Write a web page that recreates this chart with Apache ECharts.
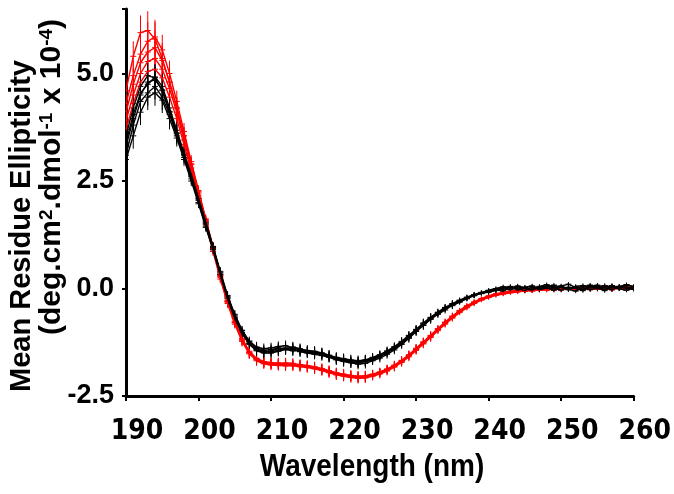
<!DOCTYPE html>
<html><head><meta charset="utf-8">
<script src="https://cdn.jsdelivr.net/npm/echarts@6/dist/echarts.min.js"></script>
<style>html,body{margin:0;padding:0;background:#fff}#c{width:674px;height:494px}</style>
</head><body><div id="c"></div>
<script>
// wavelengths 190..260 nm, 1 nm steps
const wavelengths = [190,191,192,193,194,195,196,197,198,199,200,201,202,203,204,205,206,207,208,209,210,211,212,213,214,215,216,217,218,219,220,221,222,223,224,225,226,227,228,229,230,231,232,233,234,235,236,237,238,239,240,241,242,243,244,245,246,247,248,249,250,251,252,253,254,255,256,257,258,259,260];
const xTickLabels = [190,200,210,220,230,240,250,260];
const yTickLabels = ['-2.5','0.0','2.5','5.0'];

const black1 = [3.55,4.2,4.7,4.95,4.9,4.6,4.1,3.6,3.1,2.6, 2.05,1.5,0.95,0.38,-0.18,-0.62,-0.98,-1.22,-1.36,-1.4, -1.38,-1.35,-1.33,-1.38,-1.42,-1.44,-1.46,-1.5,-1.55,-1.6, -1.63,-1.66,-1.68,-1.66,-1.6,-1.54,-1.45,-1.35,-1.23,-1.09, -0.95,-0.8,-0.67,-0.55,-0.44,-0.35,-0.27,-0.2,-0.14,-0.09, -0.05,-0.02,0.02,0.05,-0.01,0.03,0.06,0.0,0.04,0.08, 0.02,-0.03,0.05,0.07,0.01,0.04,-0.02,0.06,0.03,0.08, 0.05];
const black2 = [3.3,3.95,4.5,4.8,4.85,4.62,4.12,3.62,3.12,2.62, 2.08,1.52,0.97,0.36,-0.2,-0.66,-1.02,-1.27,-1.42,-1.47, -1.45,-1.4,-1.42,-1.45,-1.43,-1.48,-1.5,-1.52,-1.58,-1.64, -1.67,-1.71,-1.73,-1.7,-1.66,-1.58,-1.5,-1.4,-1.29,-1.14, -0.99,-0.85,-0.7,-0.59,-0.47,-0.4,-0.3,-0.24,-0.15,-0.12, -0.07,-0.05,0.0,-0.03,0.04,0.0,-0.04,0.03,0.06,0.01, -0.04,0.03,0.0,-0.05,0.04,0.08,0.02,-0.03,0.05,0.0, 0.03];
const black3 = [3.1,3.8,4.35,4.55,4.7,4.45,4.05,3.55,3.05,2.55, 2.0,1.45,0.92,0.33,-0.22,-0.7,-1.05,-1.3,-1.45,-1.5, -1.5,-1.46,-1.42,-1.4,-1.47,-1.5,-1.53,-1.56,-1.6,-1.66, -1.7,-1.73,-1.76,-1.74,-1.68,-1.62,-1.53,-1.43,-1.3,-1.16, -1.0,-0.86,-0.72,-0.6,-0.5,-0.39,-0.32,-0.23,-0.17,-0.1, -0.09,-0.03,-0.06,0.02,0.0,-0.05,0.03,-0.02,0.01,-0.04, 0.03,-0.02,-0.06,0.02,-0.03,0.01,-0.05,0.04,-0.01,-0.04, 0.01];
const black4 = [3.0,3.55,4.1,4.45,4.55,4.38,3.95,3.5,3.0,2.5, 1.97,1.42,0.9,0.32,-0.24,-0.68,-1.03,-1.28,-1.43,-1.48, -1.47,-1.44,-1.38,-1.43,-1.46,-1.47,-1.49,-1.54,-1.59,-1.63, -1.68,-1.72,-1.72,-1.69,-1.64,-1.57,-1.48,-1.38,-1.26,-1.12, -0.97,-0.82,-0.69,-0.57,-0.46,-0.36,-0.29,-0.21,-0.16,-0.11, -0.06,-0.04,-0.01,0.03,-0.04,0.02,0.05,-0.03,0.02,0.0, 0.05,0.0,0.03,-0.02,0.06,-0.01,0.03,0.07,0.0,0.04, -0.02];
const black5 = [3.4,4.05,4.55,4.75,4.92,4.7,4.2,3.68,3.15,2.65, 2.1,1.55,0.98,0.4,-0.16,-0.6,-0.97,-1.24,-1.38,-1.44, -1.42,-1.38,-1.4,-1.36,-1.4,-1.45,-1.48,-1.5,-1.56,-1.62, -1.65,-1.68,-1.7,-1.67,-1.62,-1.55,-1.47,-1.37,-1.25,-1.1, -0.96,-0.82,-0.68,-0.56,-0.45,-0.37,-0.28,-0.22,-0.15,-0.1, -0.04,0.0,0.04,0.01,0.06,0.02,-0.02,0.05,0.09,0.03, 0.06,0.1,0.02,0.04,0.08,0.03,0.07,0.01,0.05,0.09, 0.04];

const red1 = [4.6,5.4,5.95,6.0,5.8,5.35,4.8,4.2,3.55,2.9, 2.25,1.6,0.95,0.3,-0.3,-0.78,-1.18,-1.48,-1.64,-1.72, -1.74,-1.73,-1.75,-1.77,-1.78,-1.8,-1.84,-1.88,-1.93,-1.98, -2.01,-2.04,-2.06,-2.05,-2.01,-1.96,-1.89,-1.8,-1.69,-1.56, -1.41,-1.26,-1.11,-0.95,-0.8,-0.66,-0.53,-0.42,-0.33,-0.25, -0.19,-0.14,-0.11,-0.08,-0.05,-0.06,-0.02,-0.04,0.0,-0.03, 0.02,-0.01,0.03,0.0,-0.02,0.04,0.01,-0.03,0.02,0.0, 0.03];
const red2 = [4.3,4.95,5.45,5.75,5.85,5.55,5.0,4.35,3.65,2.95, 2.28,1.62,0.97,0.32,-0.28,-0.76,-1.16,-1.46,-1.62,-1.7, -1.72,-1.75,-1.73,-1.74,-1.77,-1.79,-1.82,-1.86,-1.91,-1.96, -1.99,-2.02,-2.04,-2.03,-1.99,-1.94,-1.87,-1.78,-1.67,-1.54, -1.39,-1.24,-1.09,-0.93,-0.78,-0.64,-0.51,-0.4,-0.31,-0.23, -0.17,-0.12,-0.1,-0.06,-0.07,-0.03,-0.05,-0.01,-0.03,0.01, -0.02,0.02,-0.01,0.03,0.01,-0.02,0.02,0.05,0.0,0.02, -0.01];
const red3 = [4.1,4.75,5.25,5.5,5.6,5.3,4.8,4.2,3.55,2.88, 2.22,1.58,0.93,0.28,-0.3,-0.79,-1.2,-1.5,-1.66,-1.73, -1.76,-1.77,-1.78,-1.78,-1.8,-1.82,-1.85,-1.89,-1.94,-1.99, -2.02,-2.05,-2.07,-2.06,-2.02,-1.97,-1.9,-1.81,-1.7,-1.57, -1.42,-1.27,-1.12,-0.96,-0.81,-0.67,-0.54,-0.43,-0.34,-0.26, -0.2,-0.15,-0.12,-0.09,-0.07,-0.05,-0.04,-0.03,-0.01,-0.02, 0.0,0.01,-0.02,0.0,0.02,0.0,-0.01,0.03,0.01,0.0, 0.02];
const red4 = [3.9,4.5,5.0,5.28,5.35,5.1,4.65,4.1,3.45,2.8, 2.17,1.54,0.9,0.26,-0.32,-0.8,-1.2,-1.49,-1.65,-1.71, -1.74,-1.76,-1.76,-1.77,-1.79,-1.81,-1.84,-1.88,-1.92,-1.97, -2.0,-2.03,-2.05,-2.04,-2.0,-1.95,-1.88,-1.79,-1.68,-1.55, -1.4,-1.25,-1.1,-0.94,-0.79,-0.65,-0.52,-0.41,-0.32,-0.24, -0.18,-0.13,-0.09,-0.07,-0.04,-0.06,-0.02,-0.04,0.01,-0.01, 0.03,0.0,0.02,-0.02,0.04,0.01,0.06,0.0,0.03,0.05, 0.01];
const red5 = [3.7,4.3,4.8,5.05,5.1,4.9,4.45,3.95,3.35,2.72, 2.1,1.48,0.86,0.22,-0.35,-0.83,-1.23,-1.52,-1.68,-1.75, -1.78,-1.79,-1.8,-1.8,-1.82,-1.84,-1.87,-1.91,-1.96,-2.01, -2.04,-2.07,-2.09,-2.08,-2.04,-1.99,-1.92,-1.83,-1.72,-1.59, -1.44,-1.29,-1.14,-0.98,-0.83,-0.69,-0.56,-0.45,-0.35,-0.27, -0.21,-0.16,-0.13,-0.1,-0.08,-0.05,-0.06,-0.03,-0.04,-0.01, -0.03,0.0,-0.02,0.01,-0.01,0.02,0.0,-0.02,0.01,0.03, 0.0];

const redErr = [0.3,0.35,0.4,0.45,0.4,0.35,0.3,0.25,0.2,0.15, 0.12,0.1,0.1,0.1,0.1,0.1,0.12,0.12,0.12,0.12, 0.12,0.12,0.12,0.12,0.12,0.12,0.12,0.12,0.12,0.12, 0.12,0.12,0.12,0.12,0.1,0.1,0.1,0.1,0.1,0.1, 0.1,0.1,0.1,0.08,0.08,0.08,0.06,0.06,0.06,0.05, 0.05,0.05,0.05,0.05,0.05,0.05,0.05,0.05,0.05,0.05, 0.05,0.05,0.05,0.05,0.05,0.05,0.05,0.05,0.05,0.05, 0.05];
const blackErr = [0.25,0.3,0.3,0.3,0.3,0.3,0.25,0.2,0.15,0.12, 0.1,0.1,0.1,0.1,0.1,0.1,0.1,0.1,0.12,0.12, 0.12,0.12,0.12,0.12,0.12,0.12,0.12,0.12,0.12,0.12, 0.12,0.12,0.12,0.12,0.1,0.1,0.1,0.1,0.1,0.1, 0.1,0.1,0.1,0.08,0.08,0.08,0.06,0.06,0.06,0.05, 0.05,0.05,0.05,0.05,0.05,0.05,0.05,0.05,0.05,0.05, 0.05,0.05,0.05,0.05,0.05,0.05,0.05,0.05,0.05,0.05, 0.05];

const groups = [
  {color:'#ff0000', err: redErr, lines:[red1,red2,red3,red4,red5]},
  {color:'#000000', err: blackErr, lines:[black1,black2,black3,black4,black5]}
];

const series = [];
groups.forEach(g => {
  g.lines.forEach(vals => {
    series.push({
      type:'line', data: wavelengths.map((w,i)=>[w, vals[i]]),
      showSymbol:false, symbol:'none', lineStyle:{color:g.color, width:1.4}, silent:true, z:2
    });
    series.push({
      type:'custom', clip:true, silent:true, z:2,
      data: wavelengths.map((w,i)=>[w, vals[i], g.err[i]]),
      renderItem: (params, api) => {
        const x = api.value(0), y = api.value(1), e = api.value(2);
        const p = api.coord([x, y]);
        const hi = api.coord([x, y + e]);
        const lo = api.coord([x, y - e]);
        return {type:'group', children:[
          {type:'line', shape:{x1:p[0], y1:hi[1], x2:p[0], y2:lo[1]}, style:{stroke:g.color, lineWidth:1}},
          {type:'line', shape:{x1:p[0]-3, y1:p[1], x2:p[0]+3, y2:p[1]}, style:{stroke:g.color, lineWidth:1}}
        ]};
      }
    });
  });
});

const condensed = "'DejaVu Sans Condensed','Liberation Sans Narrow','Arial Narrow',sans-serif";
const chart = echarts.init(document.getElementById('c'), null, {renderer:'canvas'});
chart.setOption({
  animation:false,
  backgroundColor:'#ffffff',
  grid:{left:126, right:37, top:9, bottom:98, containLabel:false},
  xAxis:{
    type:'value', min:190, max:260, interval:10,
    axisLine:{onZero:false, lineStyle:{color:'#000', width:3}},
    axisTick:{show:true, length:5, lineStyle:{color:'#000', width:2}},
    splitLine:{show:false},
    axisLabel:{
      margin:22, color:'#000', fontWeight:'bold', fontSize:28,
      fontFamily:condensed,
      padding:[0,0,0,22],
      formatter: v => xTickLabels.indexOf(v) >= 0 ? String(v) : ''
    }
  },
  yAxis:{
    type:'value', min:-2.5, max:6.5, interval:2.5,
    axisLine:{onZero:false, lineStyle:{color:'#000', width:3}},
    axisTick:{show:true, length:4, lineStyle:{color:'#000', width:2}},
    splitLine:{show:false},
    axisLabel:{
      margin:12, color:'#000', fontWeight:'bold', fontSize:27,
      fontFamily:"'Liberation Sans',Arial,sans-serif",
      formatter: v => { const s = v.toFixed(1); return yTickLabels.indexOf(s) >= 0 ? s : ''; }
    }
  },
  graphic:[
    {type:'text', x:372, y:467, scaleY:1.12, silent:true,
      style:{text:'Wavelength (nm)', align:'center', verticalAlign:'middle', fill:'#000',
        font:"bold 28px 'Liberation Sans',Arial,sans-serif"}},
    {type:'text', x:22, y:226, rotation:Math.PI/2, silent:true,
      style:{text:'Mean Residue Ellipticity', align:'center', verticalAlign:'middle', fill:'#000',
        font:"bold 29px 'Liberation Sans',Arial,sans-serif"}},
    {type:'text', x:52, y:177, rotation:Math.PI/2, silent:true,
      style:{text:'(deg.cm{s|2}.dmol{s|-1} x 10{s|-4})', align:'center', verticalAlign:'middle', fill:'#000',
        font:"bold 30px 'Liberation Sans',Arial,sans-serif",
        rich:{s:{fontSize:19, fontWeight:'bold', fontFamily:"'Liberation Sans',Arial,sans-serif", fill:'#000', verticalAlign:'top', lineHeight:19}}}}
  ],
  series: series
});
</script>
</body></html>
